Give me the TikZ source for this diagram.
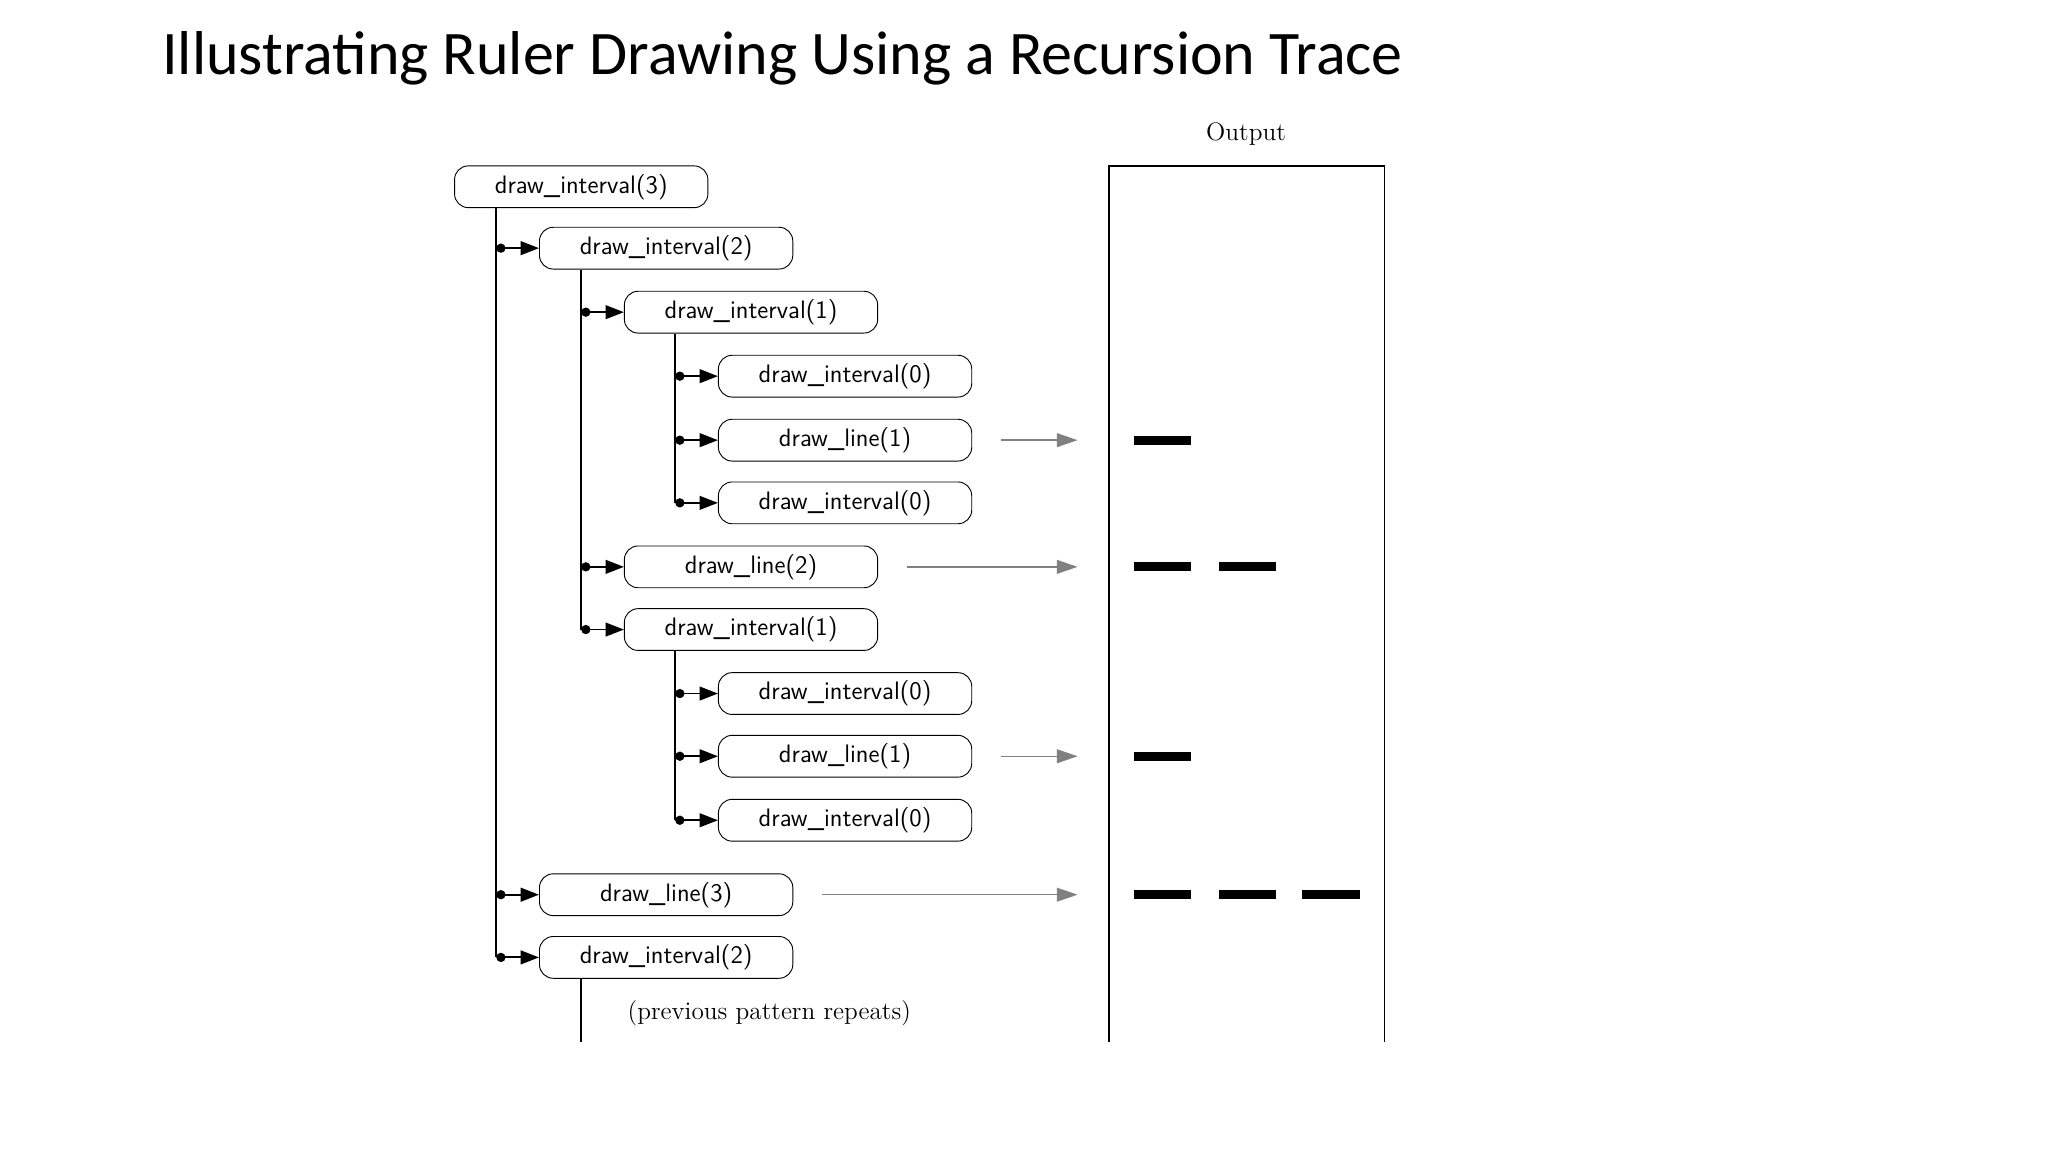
\documentclass[tikz,border=0pt]{standalone}
\usepackage{fontspec}
\newfontfamily\carl{Carlito}
\usetikzlibrary{arrows.meta,calc}
\begin{document}
\begin{tikzpicture}[x=0.02cm,y=-0.02cm,
  box/.style={draw,rounded corners=6pt,minimum width=3.88cm,minimum height=0.64cm,inner sep=0pt,font=\sffamily\fontsize{11}{13}\selectfont},
  call/.style={{Circle[length=4pt]}-{Triangle[length=8pt,width=6pt]},line width=0.8pt},
  outarrow/.style={-{Triangle[length=9pt,width=6pt]},gray,line width=0.6pt},
  tick/.style={line width=4pt}]
\useasboundingbox (0,0) rectangle (1568,882);
\node[anchor=base west,font=\carl\fontsize{27}{30}\selectfont] (title) at (118,57) {Illustrating Ruler Drawing Using a Recursion Trace};
% boxes
\node[box] (b1) at (445,143) {draw\_interval(3)};
\node[box] (b2) at (510,190) {draw\_interval(2)};
\node[box] (b3) at (575,239) {draw\_interval(1)};
\node[box] (b4) at (647,288) {draw\_interval(0)};
\node[box] (b5) at (647,337) {draw\_line(1)};
\node[box] (b6) at (647,385) {draw\_interval(0)};
\node[box] (b7) at (575,434) {draw\_line(2)};
\node[box] (b8) at (575,482) {draw\_interval(1)};
\node[box] (b9) at (647,531) {draw\_interval(0)};
\node[box] (b10) at (647,579) {draw\_line(1)};
\node[box] (b11) at (647,628) {draw\_interval(0)};
\node[box] (b12) at (510,685) {draw\_line(3)};
\node[box] (b13) at (510,733) {draw\_interval(2)};
% vertical lines
\coordinate (v1) at (380,733);
\coordinate (v2) at (445,482);
\coordinate (v3) at (517,385);
\coordinate (v4) at (517,628);
\coordinate (v5) at (445,798);
\draw[line width=0.8pt] (b1.south -| v1) -- (v1);
\draw[line width=0.8pt] (b2.south -| v2) -- (v2);
\draw[line width=0.8pt] (b3.south -| v3) -- (v3);
\draw[line width=0.8pt] (b8.south -| v4) -- (v4);
\draw[line width=0.8pt] (b13.south -| v5) -- (v5);
% calls
\foreach \b in {b2,b12,b13} \draw[call] (\b.west -| v1) -- (\b.west);
\foreach \b in {b3,b7,b8} \draw[call] (\b.west -| v2) -- (\b.west);
\foreach \b in {b4,b5,b6} \draw[call] (\b.west -| v3) -- (\b.west);
\foreach \b in {b9,b10,b11} \draw[call] (\b.west -| v4) -- (\b.west);
\node[font=\fontsize{11}{13}\selectfont] (rep) at (589,776) {(previous pattern repeats)};
% output
\node[font=\fontsize{11}{13}\selectfont] (outl) at (954,103) {Output};
\draw[line width=0.8pt] (849,798) -- (849,127) -- (1060,127) -- (1060,798);
\coordinate (o1) at (825,337);
\coordinate (o2) at (825,434);
\coordinate (o3) at (825,579);
\coordinate (o4) at (825,685);
\draw[outarrow] ($(b5.east)+(22,0)$) -- (o1);
\draw[outarrow] ($(b7.east)+(22,0)$) -- (o2);
\draw[outarrow] ($(b10.east)+(22,0)$) -- (o3);
\draw[outarrow] ($(b12.east)+(22,0)$) -- (o4);
\draw[tick] (868,337) -- (912,337);
\draw[tick] (868,434) -- (912,434) (933,434) -- (977,434);
\draw[tick] (868,579) -- (912,579);
\draw[tick] (868,685) -- (912,685) (933,685) -- (977,685) (997,685) -- (1041,685);
\end{tikzpicture}
\end{document}
